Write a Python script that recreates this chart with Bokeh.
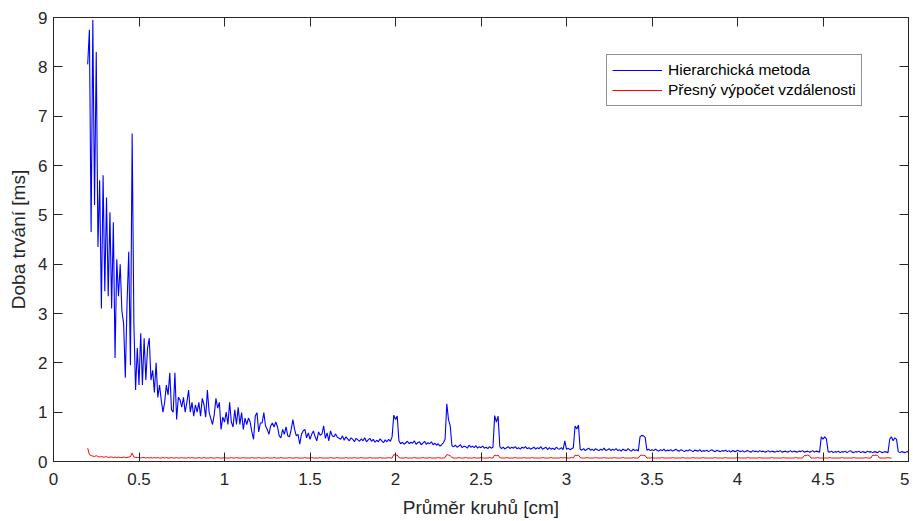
from bokeh.plotting import figure
from bokeh.models import ColumnDataSource, LinearAxis, FixedTicker, Legend, LegendItem, Range1d
from bokeh.embed import file_html
from bokeh.resources import INLINE
import numpy as np

x_start = 0.20
x_step = 0.01

hier = [
    8.05, 8.75, 4.65, 8.95, 5.2, 8.3, 4.35, 5.7, 3.1, 5.8,
    3.45, 5.35, 3.35, 5.05, 3.1, 4.85, 2.1, 4.1, 3.35, 4.0,
    3.05, 2.8, 1.7, 3.2, 4.25, 1.95, 6.65, 2.8, 1.45, 2.3,
    1.55, 2.6, 1.55, 2.5, 1.65, 2.3, 2.5, 1.65, 1.85, 1.4,
    2.0, 1.3, 1.55, 1.25, 1.0, 1.2, 1.55, 1.35, 1.8, 1.05,
    1.0, 1.8, 0.85, 1.3, 1.25, 1.1, 1.3, 1.0, 1.2, 1.45,
    1.0, 1.2, 0.92, 1.15, 1.0, 1.2, 0.92, 1.28, 1.15, 0.9,
    1.45, 1.0, 0.87, 0.75, 0.95, 1.28, 1.08, 1.2, 0.65, 0.9,
    0.8, 1.0, 0.75, 1.2, 0.8, 0.7, 1.05, 0.75, 1.1, 0.75,
    0.99, 0.65, 0.88, 0.75, 0.88, 0.8, 0.6, 0.45, 0.92, 0.99,
    0.6, 0.78, 0.78, 0.99, 0.72, 0.65, 0.55, 0.72, 0.78, 0.7,
    0.8, 0.7, 0.52, 0.48, 0.65, 0.55, 0.7, 0.52, 0.5, 0.65,
    0.85, 0.65, 0.52, 0.55, 0.35, 0.55, 0.62, 0.65, 0.48, 0.58,
    0.45, 0.55, 0.62, 0.5, 0.42, 0.6, 0.53, 0.56, 0.72, 0.47,
    0.58, 0.42, 0.62, 0.52, 0.5, 0.56, 0.49, 0.47, 0.45, 0.52,
    0.43, 0.5, 0.46, 0.42, 0.48, 0.45, 0.4, 0.47, 0.44, 0.41,
    0.46, 0.42, 0.48, 0.4, 0.44, 0.47, 0.41, 0.45, 0.39, 0.43,
    0.4, 0.46, 0.42, 0.38, 0.44, 0.4, 0.45, 0.41, 0.5, 0.94,
    0.85, 0.92, 0.42, 0.36, 0.39, 0.35, 0.38, 0.41, 0.36, 0.39,
    0.37, 0.42, 0.35, 0.38, 0.4, 0.34, 0.37, 0.41, 0.35, 0.38,
    0.36, 0.4, 0.34, 0.37, 0.33, 0.36, 0.31, 0.34, 0.38, 0.45,
    1.17, 0.85, 0.72, 0.32, 0.3, 0.33, 0.29, 0.31, 0.34, 0.28,
    0.31, 0.3, 0.27, 0.33, 0.29, 0.31, 0.28, 0.32, 0.27, 0.3,
    0.28, 0.31, 0.27, 0.29, 0.26, 0.3, 0.27, 0.29, 0.93, 0.8,
    0.92, 0.3, 0.26, 0.29, 0.25, 0.28, 0.3, 0.26, 0.29, 0.27,
    0.3, 0.26, 0.28, 0.25, 0.29, 0.27, 0.3, 0.26, 0.28, 0.25,
    0.27, 0.29, 0.25, 0.28, 0.26, 0.3, 0.25, 0.27, 0.29, 0.24,
    0.28, 0.25, 0.27, 0.24, 0.29, 0.26, 0.25, 0.28, 0.24, 0.42,
    0.25, 0.27, 0.24, 0.26, 0.28, 0.72, 0.66, 0.74, 0.25, 0.23,
    0.26, 0.22, 0.25, 0.27, 0.23, 0.25, 0.22, 0.26, 0.24, 0.22,
    0.25, 0.23, 0.27, 0.22, 0.24, 0.26, 0.22, 0.25, 0.23, 0.26,
    0.22, 0.24, 0.21, 0.25, 0.23, 0.22, 0.26, 0.23, 0.21, 0.25,
    0.22, 0.24, 0.21, 0.5, 0.53, 0.52, 0.49, 0.23, 0.25, 0.22,
    0.24, 0.22, 0.25, 0.23, 0.21, 0.24, 0.22, 0.25, 0.21, 0.23,
    0.22, 0.24, 0.21, 0.23, 0.25, 0.22, 0.21, 0.24, 0.22, 0.2,
    0.23, 0.21, 0.24, 0.22, 0.2, 0.23, 0.22, 0.21, 0.24, 0.2,
    0.22, 0.21, 0.23, 0.2, 0.22, 0.24, 0.21, 0.2, 0.23, 0.21,
    0.2, 0.22, 0.21, 0.23, 0.2, 0.22, 0.19, 0.22, 0.21, 0.2,
    0.23, 0.21, 0.2, 0.22, 0.19, 0.21, 0.22, 0.2, 0.19, 0.22,
    0.2, 0.21, 0.19, 0.22, 0.2, 0.21, 0.19, 0.2, 0.22, 0.19,
    0.21, 0.2, 0.19, 0.21, 0.2, 0.22, 0.19, 0.2, 0.21, 0.19,
    0.2, 0.22, 0.19, 0.21, 0.2, 0.19, 0.21, 0.2, 0.22, 0.19,
    0.2, 0.21, 0.19, 0.2, 0.22, 0.19, 0.21, 0.2, 0.19, 0.5,
    0.45, 0.5, 0.46, 0.2, 0.19, 0.21, 0.18, 0.2, 0.19, 0.21,
    0.18, 0.2, 0.19, 0.21, 0.18, 0.2, 0.22, 0.19, 0.18, 0.2,
    0.19, 0.21, 0.18, 0.2, 0.19, 0.18, 0.21, 0.19, 0.2, 0.18,
    0.2, 0.19, 0.18, 0.21, 0.19, 0.18, 0.2, 0.19, 0.18, 0.45,
    0.5, 0.42, 0.48, 0.45, 0.2, 0.18, 0.2, 0.19, 0.18, 0.2,
    0.19,
]

presny = [
    0.27, 0.14, 0.12, 0.11, 0.10, 0.12, 0.10, 0.09, 0.10, 0.09,
    0.09, 0.10, 0.08, 0.09, 0.09, 0.08, 0.09, 0.08, 0.09, 0.08,
    0.08, 0.09, 0.08, 0.08, 0.09, 0.10, 0.17, 0.09, 0.08, 0.08,
    0.08, 0.07, 0.08, 0.08, 0.07, 0.08, 0.07, 0.08, 0.07, 0.08,
    0.07, 0.08, 0.07, 0.07, 0.08, 0.07, 0.08, 0.07, 0.07, 0.08,
    0.07, 0.07, 0.08, 0.07, 0.07, 0.08, 0.07, 0.07, 0.07, 0.08,
    0.07, 0.08, 0.07, 0.07, 0.07, 0.08, 0.07, 0.07, 0.08, 0.07,
    0.07, 0.07, 0.08, 0.07, 0.07, 0.07, 0.08, 0.07, 0.07, 0.07,
    0.08, 0.07, 0.07, 0.07, 0.08, 0.07, 0.07, 0.08, 0.07, 0.07,
    0.07, 0.08, 0.07, 0.07, 0.07, 0.07, 0.08, 0.07, 0.07, 0.07,
    0.08, 0.07, 0.07, 0.07, 0.07, 0.08, 0.07, 0.07, 0.07, 0.08,
    0.07, 0.07, 0.07, 0.08, 0.07, 0.07, 0.07, 0.07, 0.08, 0.07,
    0.07, 0.07, 0.08, 0.07, 0.07, 0.07, 0.07, 0.08, 0.07, 0.07,
    0.07, 0.08, 0.07, 0.07, 0.07, 0.07, 0.08, 0.07, 0.07, 0.07,
    0.07, 0.07, 0.08, 0.07, 0.07, 0.07, 0.08, 0.07, 0.07, 0.07,
    0.07, 0.08, 0.07, 0.07, 0.07, 0.07, 0.08, 0.07, 0.07, 0.07,
    0.08, 0.07, 0.07, 0.07, 0.07, 0.08, 0.07, 0.07, 0.07, 0.07,
    0.07, 0.08, 0.07, 0.07, 0.07, 0.07, 0.08, 0.07, 0.07, 0.14,
    0.13, 0.13, 0.08, 0.07, 0.07, 0.07, 0.08, 0.07, 0.07, 0.07,
    0.07, 0.08, 0.07, 0.07, 0.07, 0.07, 0.08, 0.07, 0.07, 0.07,
    0.08, 0.07, 0.07, 0.07, 0.07, 0.08, 0.07, 0.07, 0.07, 0.08,
    0.14, 0.13, 0.12, 0.08, 0.07, 0.07, 0.07, 0.08, 0.07, 0.07,
    0.07, 0.08, 0.07, 0.07, 0.07, 0.07, 0.08, 0.07, 0.07, 0.07,
    0.08, 0.07, 0.07, 0.07, 0.07, 0.08, 0.07, 0.07, 0.13, 0.12,
    0.13, 0.08, 0.07, 0.07, 0.07, 0.08, 0.07, 0.07, 0.07, 0.07,
    0.08, 0.07, 0.07, 0.07, 0.07, 0.08, 0.07, 0.07, 0.07, 0.07,
    0.08, 0.07, 0.07, 0.07, 0.07, 0.07, 0.08, 0.07, 0.07, 0.07,
    0.07, 0.08, 0.07, 0.07, 0.07, 0.07, 0.07, 0.08, 0.07, 0.08,
    0.07, 0.07, 0.07, 0.08, 0.07, 0.13, 0.12, 0.13, 0.08, 0.07,
    0.07, 0.07, 0.08, 0.07, 0.07, 0.07, 0.07, 0.08, 0.07, 0.07,
    0.07, 0.07, 0.08, 0.07, 0.07, 0.07, 0.07, 0.07, 0.08, 0.07,
    0.07, 0.07, 0.07, 0.08, 0.07, 0.07, 0.07, 0.07, 0.07, 0.08,
    0.07, 0.07, 0.07, 0.12, 0.13, 0.12, 0.12, 0.07, 0.07, 0.07,
    0.08, 0.07, 0.07, 0.07, 0.07, 0.07, 0.08, 0.07, 0.07, 0.07,
    0.07, 0.07, 0.08, 0.07, 0.07, 0.07, 0.07, 0.07, 0.08, 0.07,
    0.07, 0.07, 0.07, 0.07, 0.08, 0.07, 0.07, 0.07, 0.07, 0.07,
    0.08, 0.07, 0.07, 0.07, 0.07, 0.07, 0.07, 0.08, 0.07, 0.07,
    0.07, 0.07, 0.07, 0.08, 0.07, 0.07, 0.07, 0.07, 0.07, 0.07,
    0.08, 0.07, 0.07, 0.07, 0.07, 0.07, 0.08, 0.07, 0.07, 0.07,
    0.07, 0.07, 0.07, 0.08, 0.07, 0.07, 0.07, 0.07, 0.07, 0.07,
    0.08, 0.07, 0.07, 0.07, 0.07, 0.07, 0.07, 0.08, 0.07, 0.07,
    0.07, 0.07, 0.07, 0.07, 0.08, 0.07, 0.07, 0.07, 0.07, 0.12,
    0.12, 0.13, 0.12, 0.07, 0.07, 0.07, 0.07, 0.08, 0.07, 0.07,
    0.07, 0.07, 0.07, 0.07, 0.08, 0.07, 0.07, 0.07, 0.07, 0.07,
    0.07, 0.08, 0.07, 0.07, 0.07, 0.07, 0.07, 0.07, 0.08, 0.07,
    0.07, 0.07, 0.07, 0.07, 0.07, 0.08, 0.07, 0.07, 0.07, 0.13,
    0.12, 0.13, 0.12, 0.07, 0.07, 0.07, 0.07, 0.07, 0.08, 0.07,
    0.07,
]

x_ticks = [0, 0.5, 1, 1.5, 2, 2.5, 3, 3.5, 4, 4.5, 5]
x_tick_labels = ["0", "0.5", "1", "1.5", "2", "2.5", "3", "3.5", "4", "4.5", "5"]
y_ticks = [0, 1, 2, 3, 4, 5, 6, 7, 8, 9]
y_tick_labels = [str(t) for t in y_ticks]

series_names = ["Hierarchická metoda", "Přesný výpočet vzdálenosti"]
x_label = "Průměr kruhů [cm]"
y_label = "Doba trvání [ms]"

xs_h = np.round(x_start + x_step * np.arange(len(hier)), 2)
xs_p = np.round(x_start + x_step * np.arange(len(presny)), 2)

FONT = "Liberation Sans"
AX = "#262626"

p = figure(width=909, height=520, output_backend="svg", toolbar_location=None,
           x_range=Range1d(0, 5), y_range=Range1d(0, 9),
           min_border_left=53, min_border_right=1, min_border_top=17, min_border_bottom=56,
           background_fill_color="white", border_fill_color="white")
p.outline_line_color = AX
p.xgrid.visible = False
p.ygrid.visible = False

src_h = ColumnDataSource(dict(x=xs_h, y=hier))
src_p = ColumnDataSource(dict(x=xs_p, y=presny))
r1 = p.line("x", "y", source=src_h, line_color="#0000ff", line_width=1.1)
r2 = p.line("x", "y", source=src_p, line_color="#ff0000", line_width=1.0)

def style_axis(ax, ticks, labels, show_labels):
    ax.ticker = FixedTicker(ticks=ticks)
    ax.major_label_overrides = {t: l for t, l in zip(ticks, labels)}
    ax.major_tick_in = 9
    ax.major_tick_out = 0
    ax.minor_tick_in = 0
    ax.minor_tick_out = 0
    ax.axis_line_color = AX
    ax.major_tick_line_color = AX
    ax.axis_line_width = 1
    ax.major_label_text_font = FONT
    ax.major_label_text_color = AX
    ax.axis_label_text_font = FONT
    ax.axis_label_text_font_style = "normal"
    ax.axis_label_text_color = AX
    if show_labels:
        ax.major_label_text_font_size = "17px"
        ax.axis_label_text_font_size = "19px"
    else:
        ax.major_label_text_font_size = "0px"
        ax.major_label_standoff = 0
        ax.major_label_overrides = {t: "" for t in ticks}

style_axis(p.xaxis[0], x_ticks, x_tick_labels, True)
style_axis(p.yaxis[0], y_ticks, y_tick_labels, True)
p.xaxis[0].axis_label = x_label
p.yaxis[0].axis_label = y_label
p.xaxis[0].major_label_standoff = 11
p.xaxis[0].axis_label_standoff = 9
p.yaxis[0].major_label_standoff = 6
p.yaxis[0].axis_label_standoff = 6

top = LinearAxis()
right = LinearAxis()
style_axis(top, x_ticks, x_tick_labels, False)
style_axis(right, y_ticks, y_tick_labels, False)
p.add_layout(top, "above")
p.add_layout(right, "right")

legend = Legend(items=[LegendItem(label=series_names[0], renderers=[r1]),
                       LegendItem(label=series_names[1], renderers=[r2])],
                location=(553, 355))
legend.label_text_font = FONT
legend.label_text_font_size = "15.5px"
legend.label_text_color = "#000000"
legend.glyph_width = 50
legend.glyph_height = 20
legend.label_height = 20
legend.label_standoff = 6
legend.padding = 5
legend.spacing = 0
legend.margin = 0
legend.border_line_color = AX
legend.border_line_width = 1
legend.background_fill_color = "white"
legend.background_fill_alpha = 1
p.add_layout(legend, "center")

open("out.html", "w").write(file_html(p, INLINE))
